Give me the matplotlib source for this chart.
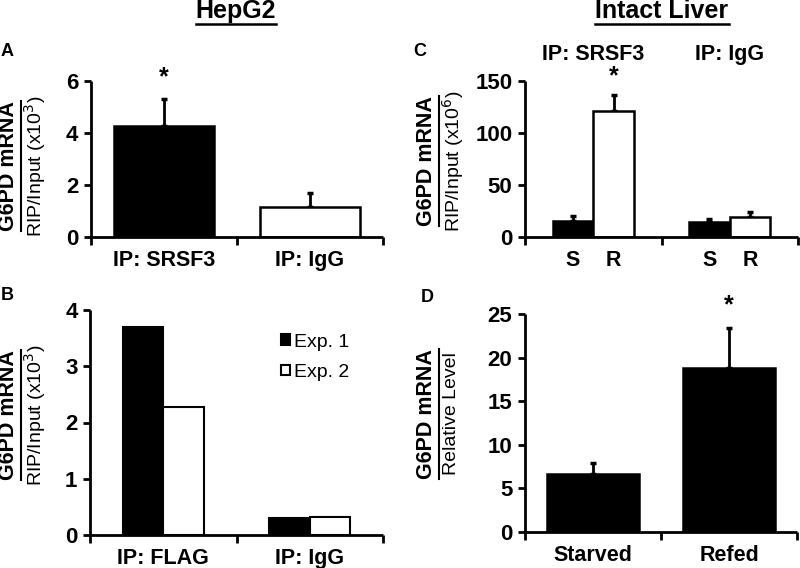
import matplotlib
matplotlib.use("Agg")
import matplotlib.pyplot as plt
from matplotlib.patches import Patch
from matplotlib.lines import Line2D

plt.rcParams['font.family'] = ['Liberation Sans', 'DejaVu Sans']

# ---------------- data ----------------
a_labels = ["IP: SRSF3", "IP: IgG"]
a_values = [4.27, 1.15]
a_err = [1.05, 0.53]

b_labels = ["IP: FLAG", "IP: IgG"]
b_exp1 = [3.70, 0.30]
b_exp2 = [2.28, 0.32]
b_series = ["Exp. 1", "Exp. 2"]

c_groups = ["IP: SRSF3", "IP: IgG"]
c_sub = ["S", "R"]
c_S = [15.5, 14.5]
c_S_err = [4.5, 3.0]
c_R = [121.0, 19.5]
c_R_err = [16.0, 4.5]

d_labels = ["Starved", "Refed"]
d_values = [6.7, 18.8]
d_err = [1.2, 4.6]

W, H = 800, 568
fig = plt.figure(figsize=(W / 100, H / 100), dpi=100)


def add_ax(l, r, t, b):
    return fig.add_axes([l / W, 1 - b / H, (r - l) / W, (b - t) / H])


def style(ax, ymax, yticks):
    ax.set_xlim(0, 2)
    ax.set_ylim(0, ymax)
    for s in ['top', 'right']:
        ax.spines[s].set_visible(False)
    for s in ['left', 'bottom']:
        ax.spines[s].set_linewidth(2.0)
        ax.spines[s].set_capstyle('butt')
    ax.set_yticks(yticks)
    ax.set_yticklabels([str(v) for v in yticks], fontsize=16, fontweight='bold')
    ax.tick_params(axis='y', direction='out', length=5, width=2, pad=4)
    ax.set_xticks([0, 1, 2])
    ax.set_xticklabels([])
    ax.tick_params(axis='x', which='major', direction='out', length=6, width=2)


def cat_labels(ax, labels, fs=15.5, pad=9.5):
    ax.set_xticks([0.5, 1.5], minor=True)
    ax.set_xticklabels(labels, minor=True, fontsize=fs, fontweight='bold')
    ax.tick_params(axis='x', which='minor', length=0, pad=pad)


def ylabel2(xb, xr, yc, bold, reg, fsb=15.5, fsr=14):
    tb = fig.text(xb / W, 1 - yc / H, bold, rotation=90, ha='center', va='center',
                  fontsize=fsb, fontweight='bold')
    fig.text(xr / W, 1 - yc / H, reg, rotation=90, ha='center', va='center',
             fontsize=fsr)
    fig.canvas.draw()
    bb = tb.get_window_extent()
    x = (bb.x1 + 1.5) / W
    fig.add_artist(Line2D([x, x], [bb.y0 / H, bb.y1 / H], color='black', lw=1.5,
                          transform=fig.transFigure))


err_kw = dict(elinewidth=2, capsize=2.5, capthick=2.5, ecolor='black')

# ---------------- panel A ----------------
axA = add_ax(91, 383, 81, 237)
style(axA, 6, [0, 2, 4, 6])
axA.bar([0.5, 1.5], a_values, width=0.68, color=['black', 'white'],
        edgecolor='black', linewidth=1.8, zorder=2)
axA.errorbar([0.5, 1.5], a_values, yerr=[[0, 0], a_err], fmt='none', zorder=1, **err_kw)
axA.text(0.5, a_values[0] + a_err[0] + 0.35, '*', ha='center', va='bottom',
         fontsize=18, fontweight='bold')
cat_labels(axA, a_labels)

# ---------------- panel B ----------------
axB = add_ax(90, 383, 310, 535)
style(axB, 4, [0, 1, 2, 3, 4])
bw = 0.277
xs = [0.5, 1.5]
axB.bar([x - bw / 2 for x in xs], b_exp1, width=bw, color='black',
        edgecolor='black', linewidth=1.5, zorder=2, label=b_series[0])
axB.bar([x + bw / 2 for x in xs], b_exp2, width=bw, color='white',
        edgecolor='black', linewidth=1.5, zorder=2, label=b_series[1])
cat_labels(axB, b_labels)
axB.legend(handles=[Patch(facecolor='black', edgecolor='black', lw=1.5),
                    Patch(facecolor='white', edgecolor='black', lw=1.5)],
           labels=b_series, loc='upper left', bbox_to_anchor=(0.625, 0.93),
           frameon=False, fontsize=14, handlelength=0.45, handleheight=0.45,
           handletextpad=0.2, labelspacing=0.7, borderaxespad=0)

# ---------------- panel C ----------------
axC = add_ax(525, 798, 81, 237)
style(axC, 150, [0, 50, 100, 150])
cw = 0.297
axC.bar([x - cw / 2 for x in xs], c_S, width=cw, color='black',
        edgecolor='black', linewidth=1.8, zorder=2)
axC.bar([x + cw / 2 for x in xs], c_R, width=cw, color='white',
        edgecolor='black', linewidth=1.8, zorder=2)
axC.errorbar([x - cw / 2 for x in xs], c_S, yerr=[[0, 0], c_S_err], fmt='none', zorder=1, **err_kw)
axC.errorbar([x + cw / 2 for x in xs], c_R, yerr=[[0, 0], c_R_err], fmt='none', zorder=1, **err_kw)
axC.text(0.5 + cw / 2, c_R[0] + c_R_err[0] + 6, '*', ha='center', va='bottom',
         fontsize=18, fontweight='bold')
subpos = [x + d * cw / 2 for x in xs for d in (-1, 1)]
axC.set_xticks(subpos, minor=True)
axC.set_xticklabels(c_sub * 2, minor=True, fontsize=15.5, fontweight='bold')
axC.tick_params(axis='x', which='minor', length=0, pad=9.5)
for x, g in zip(xs, c_groups):
    axC.text(x, 1.17, g, transform=axC.get_xaxis_transform(), ha='center',
             va='center', fontsize=15.5, fontweight='bold')

# ---------------- panel D ----------------
axD = add_ax(525, 797, 314, 532)
style(axD, 25, [0, 5, 10, 15, 20, 25])
axD.bar([0.5, 1.5], d_values, width=0.68, color='black',
        edgecolor='black', linewidth=1.8, zorder=2)
axD.errorbar([0.5, 1.5], d_values, yerr=[[0, 0], d_err], fmt='none', zorder=1, **err_kw)
axD.text(1.5, d_values[1] + d_err[1] + 1.2, '*', ha='center', va='bottom',
         fontsize=18, fontweight='bold')
cat_labels(axD, d_labels)

# ---------------- y labels ----------------
ylabel2(9, 35, 166, 'G6PD mRNA', 'RIP/Input (x10$^3$)')
ylabel2(9, 35, 415, 'G6PD mRNA', 'RIP/Input (x10$^3$)')
ylabel2(427, 453, 161, 'G6PD mRNA', 'RIP/Input (x10$^6$)')
ylabel2(427, 451, 414, 'G6PD mRNA', 'Relative Level', fsr=14)

# ---------------- titles & panel letters ----------------
for xc, t in [(236, 'HepG2'), (662, 'Intact Liver')]:
    tt = fig.text(xc / W, 1 - 11 / H, t, ha='center', va='center', fontsize=18,
                  fontweight='bold')
    fig.canvas.draw()
    bb = tt.get_window_extent()
    y = (bb.y0 - 0.5) / H
    fig.add_artist(Line2D([bb.x0 / W, bb.x1 / W], [y, y], color='black', lw=1.8,
                          transform=fig.transFigure))

for x, y, l in [(7, 52, 'A'), (7, 295, 'B'), (420, 52, 'C'), (427, 297, 'D')]:
    fig.text(x / W, 1 - y / H, l, ha='center', va='center', fontsize=13,
             fontweight='bold')

fig.savefig('out.png', dpi=100)
